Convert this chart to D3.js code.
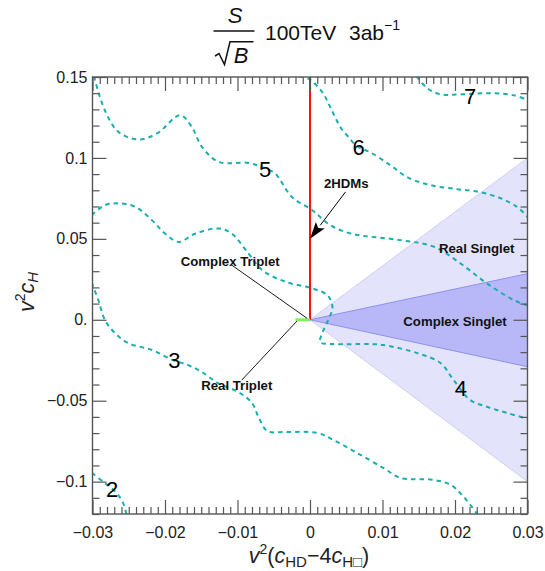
<!DOCTYPE html>
<html><head><meta charset="utf-8">
<script src="https://cdn.jsdelivr.net/npm/d3@7"></script>
<style>body{margin:0;background:#fff}svg{display:block}</style>
</head><body>
<svg id="c" width="545" height="571"></svg>
<script>
// ---- data ----
const xDomain = [-0.03, 0.03];
const yDomain = [-0.12, 0.15];
const xTickValues = [-0.03, -0.02, -0.01, 0, 0.01, 0.02, 0.03];
const xTickLabels = ["\u22120.03", "\u22120.02", "\u22120.01", "0", "0.01", "0.02", "0.03"];
const yTickValues = [-0.1, -0.05, 0, 0.05, 0.1, 0.15];
const yTickLabels = ["\u22120.1", "\u22120.05", "0.", "0.05", "0.1", "0.15"];

const contour2 = [[-0.0301,-0.0946],[-0.0285,-0.1002],[-0.0268,-0.1065],[-0.0258,-0.1130],[-0.0253,-0.1205]];
const contour3 = [[-0.0301,0.0230],[-0.0292,0.0122],[-0.0283,0.0000],[-0.0269,-0.0082],[-0.0251,-0.0144],[-0.0218,-0.0187],[-0.0189,-0.0249],[-0.0168,-0.0280],[-0.0149,-0.0323],[-0.0127,-0.0391],[-0.0099,-0.0446],[-0.0080,-0.0514],[-0.0071,-0.0601],[-0.0059,-0.0687],[-0.0034,-0.0693],[0.0010,-0.0699],[0.0032,-0.0742],[0.0065,-0.0823],[0.0101,-0.0915],[0.0125,-0.0977],[0.0170,-0.0989],[0.0194,-0.1020],[0.0212,-0.1094],[0.0233,-0.1215]];
const contour4 = [[-0.0301,0.0646],[-0.0283,0.0708],[-0.0264,0.0719],[-0.0241,0.0698],[-0.0218,0.0615],[-0.0200,0.0533],[-0.0181,0.0481],[-0.0158,0.0533],[-0.0126,0.0564],[-0.0108,0.0533],[-0.0085,0.0410],[-0.0066,0.0307],[-0.0034,0.0235],[0.0003,0.0194],[0.0024,0.0152],[0.0031,0.0078],[0.0025,-0.0002],[0.0017,-0.0082],[0.0014,-0.0138],[0.0032,-0.0150],[0.0083,-0.0150],[0.0101,-0.0156],[0.0148,-0.0206],[0.0180,-0.0267],[0.0198,-0.0372],[0.0221,-0.0496],[0.0245,-0.0539],[0.0272,-0.0576],[0.0301,-0.0613]];
const contour5 = [[-0.0298,0.1505],[-0.0283,0.1294],[-0.0264,0.1160],[-0.0237,0.1114],[-0.0211,0.1151],[-0.0179,0.1264],[-0.0163,0.1191],[-0.0149,0.1068],[-0.0126,0.0975],[-0.0085,0.0969],[-0.0062,0.0936],[-0.0048,0.0904],[-0.0025,0.0759],[0.0003,0.0677],[0.0028,0.0585],[0.0056,0.0533],[0.0125,0.0492],[0.0171,0.0451],[0.0207,0.0350],[0.0244,0.0225],[0.0281,0.0122],[0.0301,0.0086]];
const contour6 = [[-0.0015,0.1505],[0.0000,0.1484],[0.0018,0.1399],[0.0028,0.1313],[0.0042,0.1190],[0.0051,0.1140],[0.0065,0.1072],[0.0083,0.1035],[0.0111,0.0955],[0.0134,0.0881],[0.0166,0.0832],[0.0203,0.0807],[0.0235,0.0788],[0.0263,0.0751],[0.0286,0.0696],[0.0301,0.0630]];
const contour7 = [[0.0147,0.1505],[0.0162,0.1430],[0.0180,0.1393],[0.0207,0.1393],[0.0253,0.1400],[0.0281,0.1387],[0.0301,0.1356]];
const contours = [contour2, contour3, contour4, contour5, contour6, contour7];
const contourLabels = ["2", "3", "4", "5", "6", "7"];
const contourLabelPos = [[-0.0273,-0.1048],[-0.0187,-0.0249],[0.0208,-0.0422],[-0.0062,0.0930],[0.0067,0.1064],[0.0221,0.1381]];

const realSingletWedge = [[0,0],[0.03,0.100],[0.03,-0.100]];
const complexSingletWedge = [[0,0],[0.03,0.0285],[0.03,-0.029]];
const twoHDMLine = [[0,0],[0,0.15]];
const realTripletSeg = [[-0.0020,0],[0,0]];

const annotations = ["2HDMs", "Real Singlet", "Complex Singlet", "Complex Triplet", "Real Triplet"];
const annotationPos = [[0.0050,0.0842],[0.0230,0.0441],[0.0200,-0.0012],[-0.0110,0.0358],[-0.0101,-0.0407]];
const arrow2HDM = [[0.0049,0.0790],[0,0.05]];
const complexTripletPointer = [[-0.0108,0.0338],[-0.0004,0.0009]];
const realTripletPointer = [[-0.0094,-0.0372],[-0.0018,-0.0008]];

// ---- layout ----
const L = 92.5, R = 527.5, T = 77, B = 514;
const x = d3.scaleLinear().domain(xDomain).range([L, R]);
const y = d3.scaleLinear().domain(yDomain).range([B, T]);
const svg = d3.select("#c");
const font = "'Liberation Sans', Arial, Helvetica, sans-serif";

svg.append("defs").append("clipPath").attr("id","clip")
  .append("rect").attr("x",L).attr("y",T).attr("width",R-L).attr("height",B-T);
const plot = svg.append("g").attr("clip-path","url(#clip)");

const poly = pts => "M" + pts.map(p => x(p[0]) + "," + y(p[1])).join("L") + "Z";
plot.append("path").attr("d", poly(realSingletWedge))
  .attr("fill","#e3e3fb").attr("stroke","#cfcff6").attr("stroke-width",1);
plot.append("path").attr("d", poly(complexSingletWedge))
  .attr("fill","#b8b8f9").attr("stroke","#9090f0").attr("stroke-width",1);

const line = d3.line().x(d => x(d[0])).y(d => y(d[1])).curve(d3.curveCatmullRom.alpha(0.5));
contours.forEach(c => {
  plot.append("path").attr("d", line(c)).attr("fill","none")
    .attr("stroke","#1aaeae").attr("stroke-width",2).attr("stroke-dasharray","4.5,4");
});

// contour labels
contourLabels.forEach((t,i) => {
  svg.append("text").attr("x", x(contourLabelPos[i][0])).attr("y", y(contourLabelPos[i][1]))
    .attr("text-anchor","middle").attr("dominant-baseline","central")
    .attr("font-family",font).attr("font-size",22).attr("fill","#000").text(t);
});

// red 2HDM line and green segment
const sl = d3.line().x(d => x(d[0])).y(d => y(d[1]));
plot.append("path").attr("d", sl(twoHDMLine)).attr("stroke","#ff1010").attr("stroke-width",2).attr("fill","none");
plot.append("path").attr("d", sl(realTripletSeg)).attr("stroke","#7df060").attr("stroke-width",3).attr("fill","none");

// pointers
[complexTripletPointer, realTripletPointer].forEach(p => {
  svg.append("path").attr("d", sl(p)).attr("stroke","#000").attr("stroke-width",0.9).attr("fill","none");
});
// arrow
{
  const x0 = x(arrow2HDM[0][0]), y0 = y(arrow2HDM[0][1]);
  const x1 = x(arrow2HDM[1][0]), y1 = y(arrow2HDM[1][1]);
  const ang = Math.atan2(y1-y0, x1-x0);
  const len = 17, w = 5.5;
  const bx = x1 - len*Math.cos(ang), by = y1 - len*Math.sin(ang);
  svg.append("line").attr("x1",x0).attr("y1",y0).attr("x2",bx).attr("y2",by).attr("stroke","#000").attr("stroke-width",1);
  const px = -Math.sin(ang), py = Math.cos(ang);
  const nx = x1 - (len*0.8)*Math.cos(ang), ny = y1 - (len*0.8)*Math.sin(ang);
  svg.append("path").attr("d", `M${x1},${y1}L${bx+px*w},${by+py*w}L${nx},${ny}L${bx-px*w},${by-py*w}Z`).attr("fill","#000");
}

// annotations
annotations.forEach((t,i) => {
  svg.append("text").attr("x", x(annotationPos[i][0])).attr("y", y(annotationPos[i][1]))
    .attr("text-anchor","middle").attr("dominant-baseline","central")
    .attr("font-family",font).attr("font-weight","bold").attr("font-size",13.2).attr("fill","#111").text(t);
});

// ---- axes ----
const axCol = "#555";
const xMinor = d3.range(-30, 31).map(i => i/1000).filter(v => Math.abs(Math.round(v*100) - v*100) > 1e-6);
const yMinor = d3.range(-12, 16).map(i => i/100).filter(v => Math.abs(Math.round(v*20) - v*20) > 1e-6);
function styleAxis(g){ g.select(".domain").remove(); g.selectAll("line").attr("stroke",axCol).attr("stroke-width",1.2);
  g.selectAll("text").attr("font-family",font).attr("font-size",16).attr("fill","#222"); }

svg.append("g").attr("transform",`translate(0,${B})`)
  .call(d3.axisBottom(x).tickValues(xTickValues).tickSize(-14).tickPadding(13).tickFormat((d,i)=>xTickLabels[i])).call(styleAxis);
svg.append("g").attr("transform",`translate(0,${B})`)
  .call(d3.axisBottom(x).tickValues(xMinor).tickSize(-7).tickFormat("")).call(styleAxis);
svg.append("g").attr("transform",`translate(0,${T})`)
  .call(d3.axisTop(x).tickValues(xTickValues).tickSize(-14).tickFormat("")).call(styleAxis);
svg.append("g").attr("transform",`translate(0,${T})`)
  .call(d3.axisTop(x).tickValues(xMinor).tickSize(-7).tickFormat("")).call(styleAxis);
svg.append("g").attr("transform",`translate(${L},0)`)
  .call(d3.axisLeft(y).tickValues(yTickValues).tickSize(-14).tickPadding(5).tickFormat((d,i)=>yTickLabels[i])).call(styleAxis);
svg.append("g").attr("transform",`translate(${L},0)`)
  .call(d3.axisLeft(y).tickValues(yMinor).tickSize(-7).tickFormat("")).call(styleAxis);
svg.append("g").attr("transform",`translate(${R},0)`)
  .call(d3.axisRight(y).tickValues(yTickValues).tickSize(-14).tickFormat("")).call(styleAxis);
svg.append("g").attr("transform",`translate(${R},0)`)
  .call(d3.axisRight(y).tickValues(yMinor).tickSize(-7).tickFormat("")).call(styleAxis);

svg.append("rect").attr("x",L).attr("y",T).attr("width",R-L).attr("height",B-T)
  .attr("fill","none").attr("stroke",axCol).attr("stroke-width",1.4);

// ---- axis labels ----
const xl = svg.append("text").attr("x",309).attr("y",563).attr("text-anchor","middle")
  .attr("font-family",font).attr("font-size",21.5).attr("fill","#222");
xl.append("tspan").attr("font-style","italic").text("v");
xl.append("tspan").attr("font-size",14).attr("dy",-9).text("2");
xl.append("tspan").attr("dy",9).text("(");
xl.append("tspan").attr("font-style","italic").text("c");
xl.append("tspan").attr("font-size",15).attr("dy",4).text("HD");
xl.append("tspan").attr("dy",-4).text("\u22124");
xl.append("tspan").attr("font-style","italic").text("c");
xl.append("tspan").attr("font-size",15).attr("dy",4).text("H\u25A1");
xl.append("tspan").attr("dy",-4).text(")");

const yl = svg.append("text").attr("transform","translate(34,292) rotate(-90)").attr("text-anchor","middle")
  .attr("font-family",font).attr("font-size",21.5).attr("fill","#222");
yl.append("tspan").attr("font-style","italic").text("v");
yl.append("tspan").attr("font-size",14).attr("dy",-9).text("2");
yl.append("tspan").attr("font-style","italic").attr("dy",9).text("c");
yl.append("tspan").attr("font-style","italic").attr("font-size",15).attr("dy",4).text("H");

// ---- title ----
const tg = svg.append("g").attr("font-family",font).attr("fill","#111");
tg.append("text").attr("x",235).attr("y",22.5).attr("text-anchor","middle").attr("font-size",22).attr("font-style","italic").text("S");
tg.append("line").attr("x1",213.5).attr("x2",254.5).attr("y1",31).attr("y2",31).attr("stroke","#111").attr("stroke-width",1.6);
tg.append("path").attr("d","M215,56 L219,53.5 L224.5,64.5 L230,41.8 L253.5,41.8")
  .attr("fill","none").attr("stroke","#111").attr("stroke-width",1.5).attr("stroke-linejoin","miter");
tg.append("text").attr("x",241).attr("y",63).attr("text-anchor","middle").attr("font-size",22).attr("font-style","italic").text("B");
const tt = tg.append("text").attr("x",265).attr("y",39.5).attr("font-size",21);
tt.append("tspan").text("100TeV");
tt.append("tspan").attr("x",349).text("3ab");
tt.append("tspan").attr("font-size",14).attr("dy",-9.5).text("\u22121");
</script>
</body></html>
